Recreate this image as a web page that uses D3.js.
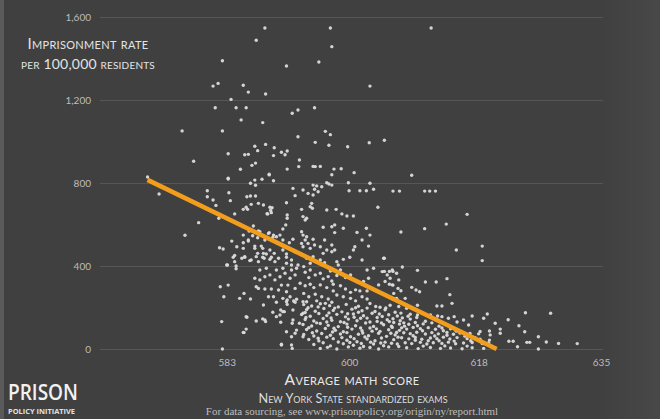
<!DOCTYPE html>
<html>
<head>
<meta charset="utf-8">
<script src="https://cdn.jsdelivr.net/npm/d3@7"></script>
<style>
  html, body { margin: 0; padding: 0; background: #404040; }
  svg { display: block; }
</style>
</head>
<body>
<svg id="chart" width="660" height="419"></svg>
<script>
// ---------------- DATA ----------------
const xTickValues = [583, 600, 618, 635];
const yTickValues = [0, 400, 800, 1200, 1600];
const xDomain = [565.67, 635];
const yDomain = [0, 1600];

// regression (trend) line end points [score, rate]
const trendLine = [[572.0, 815], [620.5, 0]];

// counties / districts: [average math score, imprisonment rate per 100,000]
const highRatePoints = [
  [588.3,1547],[597.4,1547],[611.4,1547],[587.1,1488],[597.6,1457],[582.4,1389],[591.3,1364],[595.8,1383],
  [602.9,1267],[581.1,1267],[581.8,1280],[585.3,1271],[586.0,1238],[588.4,1229],[583.6,1203],[581.4,1163],
  [584.3,1163],[585.7,1163],[585.0,1104],[588.0,1091],[592.1,1136],[592.9,1152],[595.2,1163],[576.8,1051],
  [582.4,1051],[596.7,1049],[597.4,1033],[592.9,1023],[604.9,1006],[602.8,994],[599.8,975],[595.3,996],
  [597.2,982],[586.9,977],[588.4,986],[589.6,970],[590.6,948],[591.4,954],[591.1,936],[583.2,941],
  [585.5,936],[586.0,938],[587.3,956],[589.5,932],[593.1,911],[578.4,905],[586.5,885],[587.0,896],
  [595.0,880],[595.3,879],[596.0,880],[593.0,879],[584.9,866],[591.4,867],[597.9,867],[598.9,869],
  [600.7,850],[597.6,840],[588.9,842],[583.2,823],[572.0,829],[608.7,837]
];

const rightSidePoints = [
  [606.1,761],[607.0,761],[610.5,761],[611.2,761],[612.0,761],[616.4,649],[613.5,602],[607.2,564],
  [610.5,580],[614.9,477],[618.5,496],[618.5,426],[604.9,437],[607.4,395],[604.9,374],[605.6,374],
  [606.1,374],[609.5,379],[605.7,341],[610.6,323],[612.1,323],[613.6,339],[605.6,312],[606.1,308],
  [606.8,292],[607.2,281],[608.7,297],[609.3,284],[609.8,276],[614.0,262],[614.3,220],[612.2,207],
  [612.9,207],[609.5,211],[617.1,159],[619.2,169],[622.1,141],[624.5,175],[628.0,172],[620.3,124],
  [621.0,96],[621.0,76],[623.6,112],[624.4,83],[626.3,59],[622.2,37],[622.8,37],[624.7,32],
  [625.1,32],[627.4,34],[629.1,27],[631.7,26],[623.4,11],[626.3,0],[619.5,87],[619.5,43],
  [614.6,156],[615.0,130],[613.8,148],[612.3,159],[612.9,156],[609.5,164],[607.8,244],[618.7,148],
  [618.2,84],[608.0,196],[611.3,164],[615.9,140],[616.6,116],[619.6,68]
];

const leftSidePoints = [
  [573.6,747],[577.2,548],[579.1,609],[580.3,763],[580.3,734],[581.1,718],[581.5,692],[581.9,630],
  [583.2,819],[583.3,753],[583.5,715],[584.1,651],[582.0,488],[582.5,482],[583.7,520],[583.1,405],
  [584.3,400],[584.3,387],[582.1,300],[583.2,308],[582.6,252],[582.3,132],[582.4,0],[584.8,244],
  [585.4,79],[585.7,96],[585.7,156],[587.1,135],[588.3,140],[588.1,212],[584.1,451],[585.3,485],
  [585.5,442],[586.1,569],[586.0,520],[586.6,546],[587.4,569],[587.3,536],[585.8,734],[586.3,737],
  [587.0,737],[587.4,702],[586.4,697],[586.3,799],[587.0,789],[586.9,814],[587.9,818],[588.9,839],
  [589.5,811],[588.6,652],[589.3,681],[589.1,668],[585.9,673],[591.3,705],[591.2,598],[590.8,578],
  [589.9,541],[589.5,549],[588.9,561],[588.3,525],[587.8,496],[586.9,485],[587.3,461],[588.1,461],
  [589.0,477],[589.6,461],[586.4,429],[587.4,421],[588.2,437],[589.0,432],[590.2,437],[591.3,442],
  [592.0,429],[589.5,252],[591.3,228],[592.7,240],[593.6,228],[592.2,188],[590.8,180],[589.9,156],
  [593.6,172],[590.6,23],[592.1,3],[592.5,76],[593.6,59],
  [586.9,341],[587.6,333],[588.3,348],[589.0,357],[589.7,333],[590.4,348],[591.1,365],[591.8,341],
  [592.5,357],[587.6,381],[588.5,389],[589.9,381],[590.8,389],[592.0,381],[592.7,389],[587.4,292],
  [588.3,289],[589.2,289],[590.2,284],[591.3,276],[592.5,292],[591.5,308],[590.6,308],[593.2,317],
  [587.1,300],[585.4,268],[586.3,241],[585.8,153],[585.3,80],[588.0,145],[588.4,132],[589.4,177],
  [590.5,188],[591.0,180],[590.5,129],[591.4,236],[591.4,215],[592.3,231],[592.1,124],[590.6,19],
  [592.0,19],[588.8,252],[589.9,225],[590.8,244],[591.8,252],[592.5,225],[590.4,164],[592.2,140],
  [591.3,83],[592.7,91],[592.0,59],[593.1,124],
  [585.3,673],[585.7,683],[588.1,694],[589.0,683],[589.2,657],[588.7,651],[591.4,646],[591.4,630],
  [592.2,774],[592.5,739],[586.7,593],[585.3,549],[587.6,565],[588.8,557],[589.4,538],[590.4,549],
  [590.8,525],[591.7,512],[592.2,529],[584.4,493],[585.3,512],[586.0,525],[586.9,496],[588.0,485],
  [588.5,458],[588.0,442],[587.1,445],[586.2,426],[585.5,445],[585.1,437],[583.9,442],[584.1,421],
  [583.0,405],[589.2,442],[589.7,421],[590.8,477],[591.3,458],[592.5,469],[591.3,413],[592.0,405],
  [592.9,405]
];

const centerUpperPoints = [
  [595.0,790],[595.5,786],[595.2,770],[594.3,750],[595.0,742],[595.7,758],[596.2,782],[596.9,801],
  [597.6,790],[600.0,763],[601.5,763],[602.4,763],[602.9,799],[603.4,770],[594.8,702],[594.6,686],
  [594.9,678],[596.9,670],[598.2,673],[599.0,651],[599.7,641],[600.6,641],[604.0,683],[593.4,673],
  [593.6,638],[593.9,622],[594.1,630],[596.4,587],[597.6,589],[598.0,598],[599.2,582],[598.0,561],
  [601.1,562],[601.8,525],[602.4,582],[602.9,549],[593.4,565],[593.6,549],[594.1,541],[593.9,525],
  [594.3,509],[593.4,509],[595.0,529],[595.2,501],[593.6,493],[594.6,485],[596.6,525],[596.0,493],
  [596.9,477],[597.6,469],[598.0,477],[596.4,461],[597.6,501],[600.6,477],[600.8,493],[601.8,429],
  [602.7,496],[604.8,437],[599.2,432],[600.1,442],[598.3,421],[598.5,405],[596.0,429],[596.6,416],
  [595.0,445],[594.1,437],[594.6,413],[599.9,801],[597.2,795],[593.6,766],
  [603.4,389],[604.6,373],[605.3,357],[606.0,381],[606.6,365],[602.7,341],[602.0,325],[604.1,309],
  [605.0,325],[606.0,309],[606.9,333],[606.2,268],[606.6,244],
  [593.7,397],[593.9,370],[594.6,381],[594.4,344],[595.3,357],[596.0,365],[596.4,338],[597.1,349],
  [597.6,328],[597.4,376],[597.8,312],[594.6,312],[593.9,305],[595.1,296],[596.0,309],[596.9,296],
  [597.8,280],[598.8,305],[599.5,289],[600.2,273],[600.9,285],[598.3,260],[599.2,252],[600.2,244],
  [600.9,232],[601.8,252],[602.5,241],[601.5,280],[602.5,280],[598.8,381],[598.3,354],[599.5,344],
  [600.2,357],[601.1,325],[602.5,381],[593.7,268],[594.4,252],[595.3,264],[596.2,252],[597.1,241],
  [594.1,228],[595.5,232],[596.7,220],[597.6,225]
];

const denseLowPoints = [
  [593.7,214],[594.8,207],[596.0,218],[597.3,209],[598.5,203],[599.6,215],[601.3,206],[602.9,219],[604.3,201],[605.7,211],[606.9,205],
  [594.1,190],[595.3,182],[596.5,195],[597.8,186],[599.0,179],[600.4,192],[601.8,184],[602.5,197],[603.6,181],[605.0,189],[606.4,177],
  [593.4,166],[594.6,158],[595.8,171],[596.9,161],[598.3,167],[599.5,155],[600.6,169],[602.0,160],[603.2,172],[604.6,157],[605.5,165],[606.7,159],
  [593.9,142],[595.1,135],[596.4,147],[597.6,138],[598.8,131],[599.9,144],[601.1,136],[602.5,149],[603.9,133],[605.3,141],[606.2,128],
  [593.6,118],[594.8,111],[596.0,123],[597.1,114],[598.5,108],[599.7,120],[600.9,112],[602.3,125],[603.4,109],[604.8,117],[606.0,104],[607.0,120],
  [594.1,94],[595.5,87],[596.7,99],[598.1,90],[599.2,83],[600.4,96],[601.8,88],[602.9,101],[604.3,85],[605.5,93],[606.6,80],
  [593.7,70],[595.1,63],[596.2,75],[597.4,66],[598.8,72],[600.2,59],[601.3,71],[602.7,64],[604.1,76],[605.2,61],[606.4,68],
  [594.4,46],[595.8,39],[597.8,50],[599.7,42],[601.1,35],[602.5,48],[603.6,40],[605.0,33],[606.2,45],
  [595.1,22],[597.4,15],[599.2,25],[600.6,18],[602.0,12],[603.4,24],[604.8,16],[605.9,28],
  [596.0,3],[598.3,0],[601.5,4],[604.1,0],
  [607.4,150],[608.5,144],[609.4,152],
  [607.6,126],[608.3,119],[609.2,128],[610.3,121],[611.5,126],
  [607.3,102],[608.0,96],[608.9,104],[609.9,98],[611.0,103],[612.0,95],[612.9,101],[614.1,97],
  [607.6,78],[608.5,74],[609.4,81],[610.6,72],[611.5,79],[612.4,73],[613.6,80],[614.5,71],[615.4,77],[616.8,75],[618.0,73],
  [607.3,54],[608.3,49],[609.2,56],[610.1,47],[611.3,53],[612.2,50],[613.1,57],[614.0,48],[615.0,55],[616.4,50],[617.5,54],[618.2,47],
  [607.8,30],[608.7,26],[609.9,32],[610.8,24],[611.7,30],[612.9,27],[613.8,33],[614.8,25],[615.9,29],[617.1,31],[618.5,26],[619.4,30],
  [608.0,6],[609.6,2],[611.3,7],[612.7,3],[614.1,5],[615.7,1],[617.1,6],[618.7,3]
];

const denseExtraPoints = [
  [594.3,199],[595.7,203],[598.0,197],[600.9,199],[603.7,205],[605.1,198],
  [593.9,176],[597.2,174],[599.8,170],[601.3,177],[604.2,169],[607.2,173],[608.5,168],
  [594.0,152],[597.5,150],[600.7,153],[601.6,148],[603.9,152],[606.1,146],[608.2,158],
  [595.5,126],[596.9,130],[599.3,128],[602.9,130],[604.5,125],[605.6,132],[607.1,136],[610.6,134],
  [594.4,103],[597.9,100],[599.8,105],[601.6,101],[603.8,97],[605.9,110],[607.7,110],[609.5,112],[612.5,110],
  [594.9,78],[597.7,82],[599.7,79],[601.9,77],[603.2,86],[605.8,76],[607.0,90],[610.2,88],[613.1,88],[614.9,86],
  [595.7,52],[596.9,57],[599.0,55],[600.7,50],[602.2,58],[604.5,53],[606.8,57],[608.9,64],[611.9,63],[613.6,66],[616.1,62],
  [596.4,30],[598.5,34],[600.1,31],[601.7,27],[603.0,33],[604.4,29],[606.7,24],[609.2,42],[611.0,40],[612.5,40],[614.6,38],[616.9,40],
  [597.0,8],[599.9,10],[602.9,7],[605.5,10],[606.9,12],[610.3,14],[613.3,15],[616.4,14]
];

// ---------------- DRAW ----------------
const svg = d3.select("#chart");
const W = 660, H = 419;

// background
svg.append("rect").attr("width", W).attr("height", H).attr("fill", "#404040");
const grad = svg.append("defs").append("linearGradient").attr("id", "rightFade")
  .attr("x1", "0").attr("x2", "1").attr("y1", "0").attr("y2", "0");
grad.append("stop").attr("offset", "0").attr("stop-color", "#404040");
grad.append("stop").attr("offset", "1").attr("stop-color", "#484848");
svg.append("rect").attr("x", 600).attr("y", 0).attr("width", 60).attr("height", H).attr("fill", "url(#rightFade)");
svg.append("rect").attr("x", 0).attr("y", 0).attr("width", 4).attr("height", H).attr("fill", "#5a5a5a");

const x = d3.scaleLinear().domain(xDomain).range([102, 601]);
const y = d3.scaleLinear().domain(yDomain).range([349, 17]);

// gridlines + y labels
const yAxis = d3.axisLeft(y).tickValues(yTickValues).tickSize(-503).tickPadding(10)
  .tickFormat(d3.format(","));
const gy = svg.append("g").attr("transform", "translate(102,0)").call(yAxis);
gy.select(".domain").remove();
gy.selectAll(".tick line").attr("x1", -2).attr("x2", 501).attr("stroke", "#565656").attr("stroke-width", 1.2);
gy.selectAll(".tick text").attr("fill", "#bdbdbd").attr("x", -11)
  .style("font-family", "Lato, 'Open Sans', sans-serif").style("font-size", "10px");

// x labels
const xAxis = d3.axisBottom(x).tickValues(xTickValues).tickSize(0).tickPadding(10).tickFormat(d3.format("d"));
const gx = svg.append("g").attr("transform", "translate(0,349)").call(xAxis);
gx.select(".domain").remove();
gx.selectAll(".tick text").attr("fill", "#bdbdbd")
  .style("font-family", "Lato, 'Open Sans', sans-serif").style("font-size", "10px");

// points
const allPoints = [].concat(highRatePoints, rightSidePoints, leftSidePoints, centerUpperPoints, denseLowPoints, denseExtraPoints);
svg.append("g").selectAll("circle").data(allPoints).join("circle")
  .attr("cx", d => x(d[0])).attr("cy", d => y(d[1]))
  .attr("r", 1.7).attr("fill", "#dcdcdc").attr("fill-opacity", 0.95);

// trend line
svg.append("line")
  .attr("x1", x(trendLine[0][0])).attr("y1", y(trendLine[0][1]))
  .attr("x2", x(trendLine[1][0])).attr("y2", y(trendLine[1][1]))
  .attr("stroke", "#f29e1c").attr("stroke-width", 4.5).attr("stroke-linecap", "butt");

// titles
const sc = "font-variant: small-caps; font-family: Lato, 'Open Sans', sans-serif;";
svg.append("text").attr("x", 88).attr("y", 49).attr("text-anchor", "middle")
  .attr("fill", "#e4e4e4").attr("style", sc + "font-size:15px; letter-spacing:0.3px;")
  .text("Imprisonment rate");
svg.append("text").attr("x", 88).attr("y", 69).attr("text-anchor", "middle")
  .attr("fill", "#e4e4e4").attr("style", sc + "font-size:14px; letter-spacing:0.2px;")
  .text("per 100,000 residents");

svg.append("text").attr("x", 352).attr("y", 385).attr("text-anchor", "middle")
  .attr("fill", "#e8e8e8").attr("style", sc + "font-size:15.5px; letter-spacing:0.4px;")
  .text("Average math score");
svg.append("text").attr("x", 353).attr("y", 403).attr("text-anchor", "middle")
  .attr("fill", "#dcdcdc").attr("style", sc + "font-size:12.7px;")
  .text("New York State standardized exams");
svg.append("text").attr("x", 352).attr("y", 415).attr("text-anchor", "middle")
  .attr("fill", "#bdbdbd").attr("style", "font-family:'Liberation Serif', 'DejaVu Serif', serif; font-size:11px;")
  .text("For data sourcing, see www.prisonpolicy.org/origin/ny/report.html");

// logo
svg.append("text").attr("x", 8).attr("y", 400)
  .attr("textLength", 70).attr("lengthAdjust", "spacingAndGlyphs")
  .attr("fill", "#f2f2f2").attr("style", "font-family:'Open Sans', 'DejaVu Sans', sans-serif; font-size:22px; font-weight:600;")
  .text("PRISON");
svg.append("text").attr("x", 8).attr("y", 414)
  .attr("textLength", 67).attr("lengthAdjust", "spacingAndGlyphs")
  .attr("fill", "#e0e0e0").attr("style", "font-family:'Open Sans', 'DejaVu Sans', sans-serif; font-size:6.5px; font-weight:700;")
  .text("POLICY INITIATIVE");
</script>
</body>
</html>
